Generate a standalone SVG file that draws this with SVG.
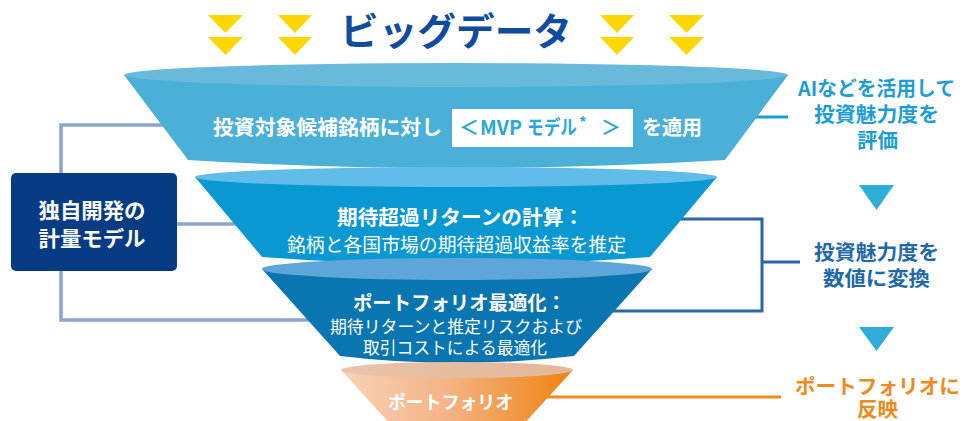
<svg xmlns="http://www.w3.org/2000/svg" width="974" height="421" viewBox="0 0 974 421">
<defs>
<style>
.b{font-family:"Noto Sans CJK JP","Noto Sans",sans-serif;font-weight:bold}
.r{font-family:"Noto Sans CJK JP","Noto Sans",sans-serif;font-weight:normal}
.w{fill:#ffffff}
.yl{fill:#ffd700}
.lc{fill:none;stroke:#8ba4d2;stroke-width:3.5}
.rc{fill:none;stroke:#2e63ad;stroke-width:3}
.tri{fill:#2eadd8}
</style>
<linearGradient id="og" x1="0" y1="0" x2="1" y2="0">
<stop offset="0" stop-color="#f8d2b8"/>
<stop offset="0.45" stop-color="#f4b487"/>
<stop offset="1" stop-color="#ef820f"/>
</linearGradient>
<linearGradient id="og2" x1="0" y1="0" x2="1" y2="0">
<stop offset="0" stop-color="#eac3aa"/>
<stop offset="1" stop-color="#e3b698"/>
</linearGradient>
</defs>
<rect width="974" height="421" fill="#ffffff"/>

<g id="bigdata">
<polygon class="yl" points="208,15 243,15 225.5,33"/>
<polygon class="yl" points="208,37 243,37 225.5,55"/>
<polygon class="yl" points="278,15 312,15 295,33"/>
<polygon class="yl" points="278,37 312,37 295,55"/>
<polygon class="yl" points="600,15 634,15 617,33"/>
<polygon class="yl" points="600,37 634,37 617,55"/>
<polygon class="yl" points="669,15 704,15 686.5,33"/>
<polygon class="yl" points="669,37 704,37 686.5,55"/>
<text class="b" x="340" y="45" font-size="38" fill="#0f4c9f" textLength="232" lengthAdjust="spacingAndGlyphs">ビッグデータ</text>
</g>

<g id="connectors">
<polyline class="lc" points="185,125 61,125 61,320 318,320"/>
<line class="lc" x1="177" y1="224" x2="262" y2="224"/>
<line x1="734" y1="117" x2="788" y2="117" stroke="#1c9dd9" stroke-width="3"/>
<polyline class="rc" points="672,219 762,219 762,311 607,311"/>
<line class="rc" x1="762" y1="262" x2="800" y2="262"/>
<line x1="538" y1="397" x2="781" y2="397" stroke="#f08a1c" stroke-width="3"/>
</g>

<g id="seg1">
<path d="M124,75 L188,160 Q456,176 725,160 L788,75 Z" fill="#4bb0d8"/>
<ellipse cx="456" cy="75" rx="332" ry="12" fill="#69b9da"/>
<text class="b w" x="213" y="135" font-size="20.5" textLength="229" lengthAdjust="spacingAndGlyphs">投資対象候補銘柄に対し</text>
<rect x="452" y="109" width="181" height="38" fill="#ffffff"/>
<g class="b" fill="#2aa7dc" font-size="20">
<text x="459" y="135">＜</text>
<text x="480" y="135" textLength="42" lengthAdjust="spacingAndGlyphs">MVP</text>
<text x="527" y="135" textLength="50" lengthAdjust="spacingAndGlyphs">モデル</text>
<text x="579" y="128" font-size="15">*</text>
<text x="601" y="135">＞</text>
</g>
<text class="b w" x="642" y="135" font-size="20.5" textLength="60" lengthAdjust="spacingAndGlyphs">を適用</text>
</g>

<g id="seg2">
<path d="M195,177 L262,257 Q456,272 650,257 L717,177 Z" fill="#0a98d3"/>
<ellipse cx="456" cy="177" rx="261" ry="10" fill="#60bde9"/>
<text class="b w" x="337" y="225" font-size="20.5" textLength="247" lengthAdjust="spacingAndGlyphs">期待超過リターンの計算：</text>
<text class="r w" x="287" y="252" font-size="18.8" textLength="339" lengthAdjust="spacingAndGlyphs">銘柄と各国市場の期待超過収益率を推定</text>
</g>

<g id="seg3">
<path d="M262,269 L340,356 Q457,370 574,356 L652,269 Z" fill="#0a76b1"/>
<ellipse cx="457" cy="269" rx="195" ry="11" fill="#5ea6da"/>
<text class="b w" x="353" y="310" font-size="19.5" textLength="213" lengthAdjust="spacingAndGlyphs">ポートフォリオ最適化：</text>
<text class="r w" x="330" y="333" font-size="17" textLength="252" lengthAdjust="spacingAndGlyphs">期待リターンと推定リスクおよび</text>
<text class="r w" x="363" y="354" font-size="17" textLength="184" lengthAdjust="spacingAndGlyphs">取引コストによる最適化</text>
</g>

<g id="seg4">
<path d="M341,370 L392,426 L522,426 L573,370 Z" fill="url(#og)"/>
<ellipse cx="457" cy="370" rx="116" ry="8" fill="url(#og2)"/>
<text class="b w" x="388" y="409" font-size="18.5" textLength="125" lengthAdjust="spacingAndGlyphs">ポートフォリオ</text>
</g>

<g id="model">
<rect x="11" y="173" width="166" height="98" rx="5" fill="#073b83"/>
<text class="b w" x="92" y="218" font-size="21" text-anchor="middle" textLength="107" lengthAdjust="spacingAndGlyphs">独自開発の</text>
<text class="b w" x="92" y="246" font-size="21" text-anchor="middle" textLength="107" lengthAdjust="spacingAndGlyphs">計量モデル</text>
</g>

<g id="evaluate" class="b" fill="#1c9dd9" text-anchor="middle" font-size="20">
<text x="876.5" y="96" textLength="157" lengthAdjust="spacingAndGlyphs">AIなどを活用して</text>
<text x="876.5" y="122" textLength="125" lengthAdjust="spacingAndGlyphs">投資魅力度を</text>
<text x="877.5" y="148" textLength="41" lengthAdjust="spacingAndGlyphs">評価</text>
</g>
<polygon id="arrow1" class="tri" points="859,185 894,185 876.5,210"/>

<g id="convert" class="b" fill="#1f69ab" text-anchor="middle" font-size="20">
<text x="876.5" y="260" textLength="125" lengthAdjust="spacingAndGlyphs">投資魅力度を</text>
<text x="876.5" y="286" textLength="107" lengthAdjust="spacingAndGlyphs">数値に変換</text>
</g>
<polygon id="arrow2" class="tri" points="859,327 894,327 876.5,351"/>

<g id="reflect" class="b" fill="#f08a1c" text-anchor="middle" font-size="20">
<text x="877.5" y="394" textLength="165" lengthAdjust="spacingAndGlyphs">ポートフォリオに</text>
<text x="877.5" y="417" textLength="41" lengthAdjust="spacingAndGlyphs">反映</text>
</g>
</svg>
